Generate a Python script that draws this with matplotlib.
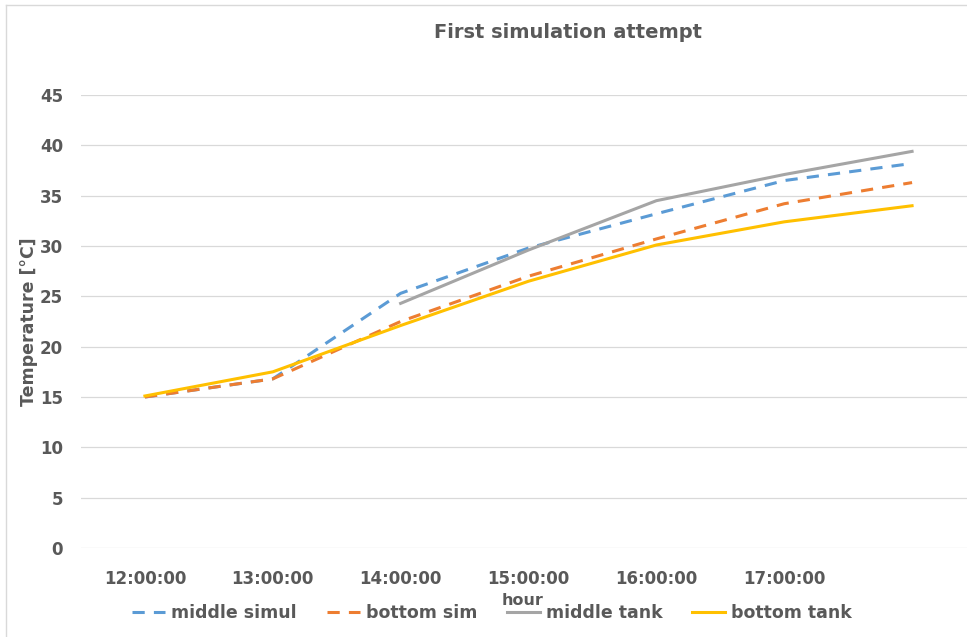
import numpy as np
import matplotlib
matplotlib.use('Agg')
import matplotlib.pyplot as plt
from matplotlib.lines import Line2D

plt.rcParams['font.family'] = ['DejaVu Sans']
plt.rcParams['font.weight'] = 'bold'

# data
hours = ['12:00:00', '13:00:00', '14:00:00', '15:00:00', '16:00:00', '17:00:00', '']
middle_simul = [15.0, 16.8, 25.3, 29.8, 33.2, 36.5, 38.2]
bottom_sim = [15.0, 16.8, 22.5, 27.0, 30.7, 34.2, 36.3]
middle_tank = [np.nan, np.nan, 24.3, 29.6, 34.5, 37.1, 39.4]
bottom_tank = [15.1, 17.5, 22.1, 26.5, 30.1, 32.4, 34.0]

txt = '#595959'
W, H = 967, 637

fig = plt.figure(figsize=(W / 100, H / 100), dpi=100)
ax = fig.add_axes([81 / W, 1 - 548 / H, (976 - 81) / W, (548 - 95) / H])

x = np.arange(len(hours))
ax.plot(x, middle_simul, color='#5B9BD5', lw=2.2, dashes=(4, 3), label='middle simul')
ax.plot(x, bottom_sim, color='#ED7D31', lw=2.2, dashes=(4, 3), label='bottom sim')
ax.plot(x, middle_tank, color='#A5A5A5', lw=2.2, label='middle tank')
ax.plot(x, bottom_tank, color='#FFC000', lw=2.2, label='bottom tank')

ax.set_xlim(-0.5, len(hours) - 0.5)
ax.set_ylim(0, 45)
ax.set_yticks(range(0, 46, 5))
ax.set_xticks(x)
ax.set_xticklabels(hours)
ax.grid(axis='y', color='#D9D9D9', lw=0.9)
ax.set_axisbelow(True)
for s in ax.spines.values():
    s.set_visible(False)
ax.tick_params(axis='x', length=0, pad=15.5, labelsize=12, labelcolor=txt)
ax.tick_params(axis='y', length=0, pad=13, labelsize=12, labelcolor=txt)
for lab in ax.get_xticklabels() + ax.get_yticklabels():
    lab.set_fontweight('bold')

ax.set_ylabel('Temperature [°C]', fontsize=12.5, fontweight='bold', color=txt, labelpad=1)
ax.set_xlabel('hour', fontsize=11.5, fontweight='bold', color=txt)
# "hour" sits just left of the "middle tank" legend text, above its handle
ax.xaxis.set_label_coords((523 - 81) / (976 - 81), -(593 - 548) / (548 - 95))

fig.text(568 / W, 1 - 32 / H, 'First simulation attempt', ha='center', va='center',
         fontsize=14, fontweight='bold', color=txt)

leg = fig.legend(loc='center', bbox_to_anchor=(492 / W, 1 - 613 / H), ncol=4, frameon=False,
                 prop={'weight': 'bold', 'size': 12.5}, labelcolor=txt,
                 handlelength=1.9, handletextpad=0.35, columnspacing=1.7)

# chart border (left and top edges visible)
fig.add_artist(Line2D([6 / W, 6 / W], [0, 1 - 5 / H], color='#D9D9D9', lw=1, transform=fig.transFigure))
fig.add_artist(Line2D([6 / W, 1], [1 - 5 / H, 1 - 5 / H], color='#D9D9D9', lw=1, transform=fig.transFigure))

fig.savefig('out.png', dpi=100)
